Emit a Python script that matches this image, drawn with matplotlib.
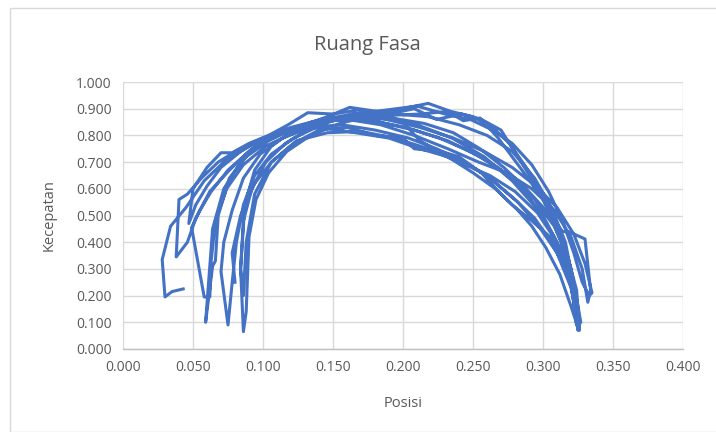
import matplotlib
matplotlib.use("Agg")
import matplotlib.pyplot as plt
from matplotlib.patches import Rectangle

# Data: successive half-swings (posisi, kecepatan)
pos_a = [0.043, 0.035, 0.030, 0.028, 0.034, 0.045, 0.058, 0.072, 0.090, 0.112, 0.135, 0.160, 0.185, 0.210, 0.235, 0.258, 0.278, 0.295, 0.308, 0.318, 0.324, 0.326]
vel_a = [0.225, 0.215, 0.195, 0.335, 0.460, 0.530, 0.630, 0.700, 0.760, 0.810, 0.850, 0.870, 0.865, 0.840, 0.790, 0.720, 0.630, 0.530, 0.420, 0.300, 0.170, 0.075]

pos_b = [0.324, 0.318, 0.308, 0.294, 0.276, 0.255, 0.232, 0.208, 0.183, 0.158, 0.134, 0.112, 0.092, 0.076, 0.062, 0.052, 0.046, 0.038]
vel_b = [0.220, 0.340, 0.460, 0.560, 0.650, 0.720, 0.780, 0.820, 0.850, 0.860, 0.845, 0.810, 0.750, 0.670, 0.590, 0.490, 0.400, 0.345]

pos_c = [0.040, 0.046, 0.056, 0.068, 0.082, 0.100, 0.120, 0.142, 0.165, 0.190, 0.212, 0.232, 0.243, 0.255, 0.268, 0.285, 0.300, 0.312, 0.320, 0.325, 0.327]
vel_c = [0.560, 0.580, 0.640, 0.700, 0.745, 0.790, 0.830, 0.860, 0.880, 0.875, 0.880, 0.890, 0.855, 0.865, 0.790, 0.670, 0.560, 0.440, 0.300, 0.160, 0.100]

pos_d = [0.325, 0.320, 0.312, 0.300, 0.285, 0.268, 0.248, 0.226, 0.202, 0.178, 0.153, 0.130, 0.108, 0.090, 0.075, 0.063, 0.055, 0.049, 0.058]
vel_d = [0.090, 0.240, 0.380, 0.500, 0.600, 0.680, 0.740, 0.790, 0.830, 0.855, 0.860, 0.840, 0.800, 0.740, 0.670, 0.590, 0.520, 0.455, 0.195]

pos_e = [0.062, 0.063, 0.066, 0.074, 0.086, 0.102, 0.122, 0.145, 0.168, 0.192, 0.215, 0.236, 0.255, 0.272, 0.288, 0.302, 0.314, 0.319, 0.330, 0.334, 0.332]
vel_e = [0.195, 0.330, 0.480, 0.600, 0.690, 0.760, 0.810, 0.850, 0.875, 0.865, 0.845, 0.810, 0.750, 0.680, 0.600, 0.520, 0.440, 0.438, 0.412, 0.220, 0.175]

pos_f = [0.328, 0.320, 0.308, 0.292, 0.274, 0.254, 0.232, 0.208, 0.184, 0.160, 0.138, 0.116, 0.098, 0.084, 0.072, 0.064, 0.059]
vel_f = [0.300, 0.420, 0.520, 0.600, 0.660, 0.700, 0.750, 0.800, 0.840, 0.860, 0.850, 0.820, 0.770, 0.700, 0.600, 0.450, 0.100]

pos_g = [0.064, 0.066, 0.068, 0.076, 0.088, 0.104, 0.124, 0.146, 0.162, 0.194, 0.218, 0.240, 0.260, 0.278, 0.294, 0.306, 0.316, 0.322, 0.326]
vel_g = [0.310, 0.330, 0.500, 0.640, 0.720, 0.780, 0.830, 0.870, 0.905, 0.880, 0.870, 0.840, 0.800, 0.740, 0.640, 0.530, 0.400, 0.240, 0.070]

pos_h = [0.320, 0.310, 0.297, 0.282, 0.262, 0.244, 0.224, 0.204, 0.180, 0.156, 0.134, 0.114, 0.098, 0.086, 0.078, 0.072, 0.070, 0.075]
vel_h = [0.230, 0.360, 0.460, 0.550, 0.640, 0.700, 0.750, 0.790, 0.820, 0.840, 0.830, 0.790, 0.730, 0.640, 0.520, 0.400, 0.290, 0.090]

pos_i = [0.078, 0.081, 0.086, 0.094, 0.106, 0.122, 0.142, 0.164, 0.188, 0.210, 0.230, 0.248, 0.264, 0.278, 0.292, 0.304, 0.314, 0.322, 0.328, 0.333, 0.335]
vel_i = [0.250, 0.400, 0.540, 0.650, 0.730, 0.790, 0.840, 0.880, 0.895, 0.910, 0.880, 0.860, 0.820, 0.770, 0.690, 0.590, 0.480, 0.360, 0.250, 0.200, 0.210]

pos_j = [0.330, 0.322, 0.310, 0.295, 0.278, 0.258, 0.236, 0.212, 0.188, 0.165, 0.142, 0.122, 0.106, 0.094, 0.087, 0.084, 0.086]
vel_j = [0.320, 0.430, 0.530, 0.610, 0.680, 0.740, 0.790, 0.830, 0.860, 0.870, 0.860, 0.820, 0.760, 0.670, 0.540, 0.300, 0.065]

pos_k = [0.088, 0.090, 0.095, 0.104, 0.117, 0.134, 0.155, 0.178, 0.200, 0.218, 0.234, 0.250, 0.264, 0.276, 0.288, 0.300, 0.310, 0.318, 0.323, 0.325]
vel_k = [0.140, 0.420, 0.560, 0.660, 0.740, 0.800, 0.845, 0.875, 0.900, 0.920, 0.890, 0.870, 0.830, 0.770, 0.680, 0.580, 0.460, 0.330, 0.190, 0.070]

pos_l = [0.320, 0.310, 0.296, 0.280, 0.262, 0.240, 0.218, 0.194, 0.170, 0.146, 0.124, 0.106, 0.094, 0.088, 0.086]
vel_l = [0.250, 0.400, 0.510, 0.590, 0.650, 0.700, 0.750, 0.790, 0.815, 0.810, 0.780, 0.700, 0.580, 0.400, 0.200]

pos_m = [0.084, 0.086, 0.092, 0.102, 0.116, 0.132, 0.150, 0.170, 0.190, 0.208, 0.224, 0.242, 0.256, 0.270, 0.282, 0.294, 0.304, 0.313, 0.320, 0.324]
vel_m = [0.300, 0.480, 0.600, 0.700, 0.770, 0.820, 0.860, 0.870, 0.880, 0.900, 0.860, 0.880, 0.860, 0.820, 0.720, 0.620, 0.520, 0.400, 0.250, 0.090]

pos_n = [0.321, 0.315, 0.305, 0.292, 0.278, 0.266, 0.250, 0.232, 0.212, 0.190, 0.166, 0.142, 0.120, 0.100, 0.084, 0.070, 0.060, 0.052, 0.047]
vel_n = [0.230, 0.330, 0.420, 0.480, 0.540, 0.600, 0.660, 0.720, 0.750, 0.790, 0.810, 0.830, 0.820, 0.790, 0.740, 0.680, 0.610, 0.540, 0.470]

pos_o = [0.050, 0.060, 0.070, 0.078, 0.090, 0.104, 0.118, 0.132, 0.150, 0.168, 0.186, 0.200, 0.212, 0.224, 0.240, 0.256, 0.270, 0.282, 0.292, 0.302, 0.312, 0.320, 0.325]
vel_o = [0.600, 0.680, 0.735, 0.735, 0.770, 0.800, 0.840, 0.885, 0.880, 0.895, 0.880, 0.850, 0.780, 0.745, 0.720, 0.660, 0.580, 0.520, 0.460, 0.380, 0.280, 0.160, 0.080]

pos_p = [0.322, 0.316, 0.306, 0.294, 0.280, 0.262, 0.244, 0.226, 0.208, 0.200, 0.180, 0.160, 0.140, 0.122, 0.106, 0.094, 0.084, 0.078, 0.080]
vel_p = [0.200, 0.300, 0.400, 0.490, 0.560, 0.640, 0.700, 0.740, 0.750, 0.790, 0.800, 0.830, 0.820, 0.770, 0.700, 0.620, 0.500, 0.360, 0.250]

posisi = (pos_a + pos_b + pos_c + pos_d + pos_e + pos_f + pos_g + pos_h
          + pos_i + pos_j + pos_k + pos_l + pos_m + pos_n + pos_o + pos_p)
kecepatan = (vel_a + vel_b + vel_c + vel_d + vel_e + vel_f + vel_g + vel_h
             + vel_i + vel_j + vel_k + vel_l + vel_m + vel_n + vel_o + vel_p)

x_ticks = [0.0, 0.05, 0.10, 0.15, 0.20, 0.25, 0.30, 0.35, 0.40]
y_ticks = [0.0, 0.1, 0.2, 0.3, 0.4, 0.5, 0.6, 0.7, 0.8, 0.9, 1.0]

plt.rcParams['font.family'] = ['Open Sans', 'DejaVu Sans']
text_col = '#595959'

fig = plt.figure(figsize=(7.16, 4.32), dpi=100)
fig.patches.append(Rectangle((10/716, 0), 1 - 10/716 + 0.01, (432-8)/432, transform=fig.transFigure,
                             fill=False, edgecolor='#D9D9D9', linewidth=1.0))
ax = fig.add_axes([123/716, (432-349)/432, (683-123)/716, (349-82)/432])
ax.plot(posisi, kecepatan, color='#4472C4', linewidth=2.2, solid_joinstyle='round', zorder=3)

ax.set_xlim(0, 0.4)
ax.set_ylim(0, 1.0)
ax.set_xticks(x_ticks)
ax.set_yticks(y_ticks)
ax.set_xticklabels([f"{t:.3f}" for t in x_ticks])
ax.set_yticklabels([f"{t:.3f}" for t in y_ticks])
ax.grid(True, color='#D9D9D9', linewidth=1.0, zorder=0)
for s in ['top', 'right', 'left']:
    ax.spines[s].set_visible(False)
ax.spines['bottom'].set_color('#BFBFBF')
ax.spines['bottom'].set_linewidth(1.0)
ax.tick_params(length=0, labelsize=10, labelcolor=text_col, pad=8)
ax.set_axisbelow(True)

ax.set_xlabel('Posisi', fontsize=10.5, color=text_col, labelpad=15)
ax.set_ylabel('Kecepatan', fontsize=10.5, color=text_col, labelpad=14)
fig.text(367/716, 1 - 45/432, 'Ruang Fasa', ha='center', va='center', fontsize=14.5, color=text_col)

fig.savefig('out.png', dpi=100)
